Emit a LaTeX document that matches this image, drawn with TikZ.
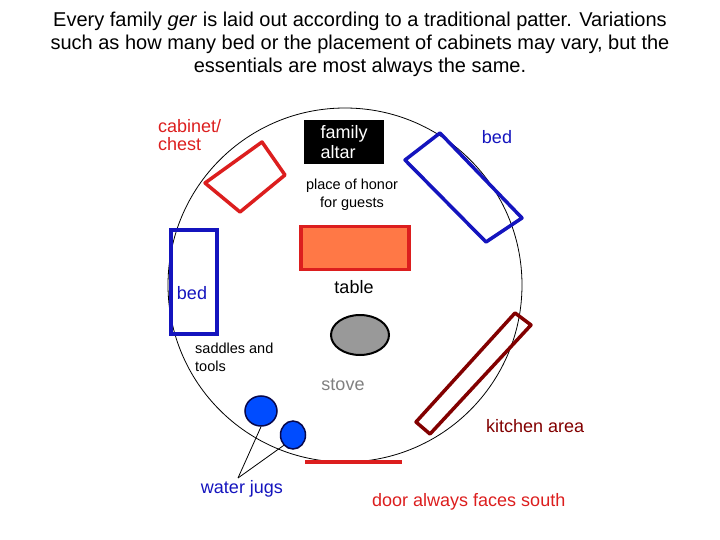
\documentclass[tikz,border=0pt]{standalone}
\usepackage{fontspec}
\setmainfont{Liberation Sans}
\usetikzlibrary{shapes.geometric}
\begin{document}
\begin{tikzpicture}[x=1pt,y=-1pt,
  lbl/.style={font=\fontsize{18}{18}\selectfont,align=left,inner sep=0pt},
  sml/.style={font=\fontsize{14.5}{18}\selectfont,inner sep=0pt},
  thick4/.style={line width=3.5pt}]
\useasboundingbox (0,0) rectangle (720,540);
\definecolor{bl}{RGB}{20,20,190}
\definecolor{rd}{RGB}{220,30,30}
\definecolor{dr}{RGB}{130,0,0}
\definecolor{orng}{RGB}{255,120,70}
\node[align=center,font=\fontsize{20}{23}\selectfont,inner sep=0pt] (title) at (360,44)
 {Every family \textit{ger} is laid out according to a traditional patter. Variations\\ such as how many bed or the placement of cabinets may vary, but the\\ essentials are most always the same.};
\draw[line width=0.8pt] (345,285) circle [radius=177];
\node[circle,minimum size=354pt,inner sep=0pt] (ger) at (345,285) {};
% cabinet
\draw[rd,thick4,line join=round] (205,183)--(262,142)--(285,175)--(240,212)--cycle;
\node[lbl,text=rd,anchor=north west] (cab) at (158,119) {cabinet/\\chest};
% altar
\node[fill=black,text=white,minimum width=80pt,minimum height=44pt,align=left,font=\fontsize{18}{20}\selectfont,inner sep=0pt] (altar) at (344,142) {family\\altar};
\node[sml,align=center] (honor) at (352,195) {place of honor\\for guests};
% right bed
\draw[bl,thick4,line join=round] (405,160)--(440,133)--(522,218)--(486,242)--cycle;
\node[lbl,text=bl] (bed1) at (497,137) {bed};
% table
\node[draw=rd,line width=3.5pt,fill=orng,minimum width=108pt,minimum height=43pt] (table) at (355,248) {};
\node[lbl] (tlab) at (354,287) {table};
% stove
\node[draw=black,line width=2pt,fill=gray!80,ellipse,minimum width=58pt,minimum height=40pt,inner sep=0pt] (stove) at (360,335) {};
\node[lbl,text=gray] (slab) at (343,385) {stove};
% left bed
\node[draw=bl,line width=3.5pt,minimum width=46pt,minimum height=104pt] (bed2) at (194,282) {};
\node[lbl,text=bl] (bed2l) at (192,293) {bed};
\node[sml,align=left,anchor=north west] (sad) at (195,343) {saddles and\\tools};
% jugs
\node[draw=black!60!bl,line width=1.5pt,fill=blue!70!cyan,ellipse,minimum width=32pt,minimum height=30pt,inner sep=0pt] (j1) at (261,411) {};
\node[draw=black!60!bl,line width=1.5pt,fill=blue!70!cyan,ellipse,minimum width=25pt,minimum height=28pt,inner sep=0pt] (j2) at (293,435) {};
\node[lbl,text=bl] (wj) at (242,489) {water jugs};
\coordinate (wjt) at (238,478);
\draw[line width=0.8pt] (wjt) -- (j1.south);
\draw[line width=0.8pt] (wjt) -- (j2.south west);
% kitchen
\draw[dr,thick4,line join=round] (416,422)--(515,313)--(531,325)--(430,434)--cycle;
\node[lbl,text=dr,anchor=west] (kit) at (486,426) {kitchen area};
% door
\coordinate (d1) at (305,462); \coordinate (d2) at (402,462);
\draw[rd,line width=4pt] (d1)--(d2);
\node[lbl,text=rd,anchor=west] (door) at (372,502) {door always faces south};
\end{tikzpicture}
\end{document}
